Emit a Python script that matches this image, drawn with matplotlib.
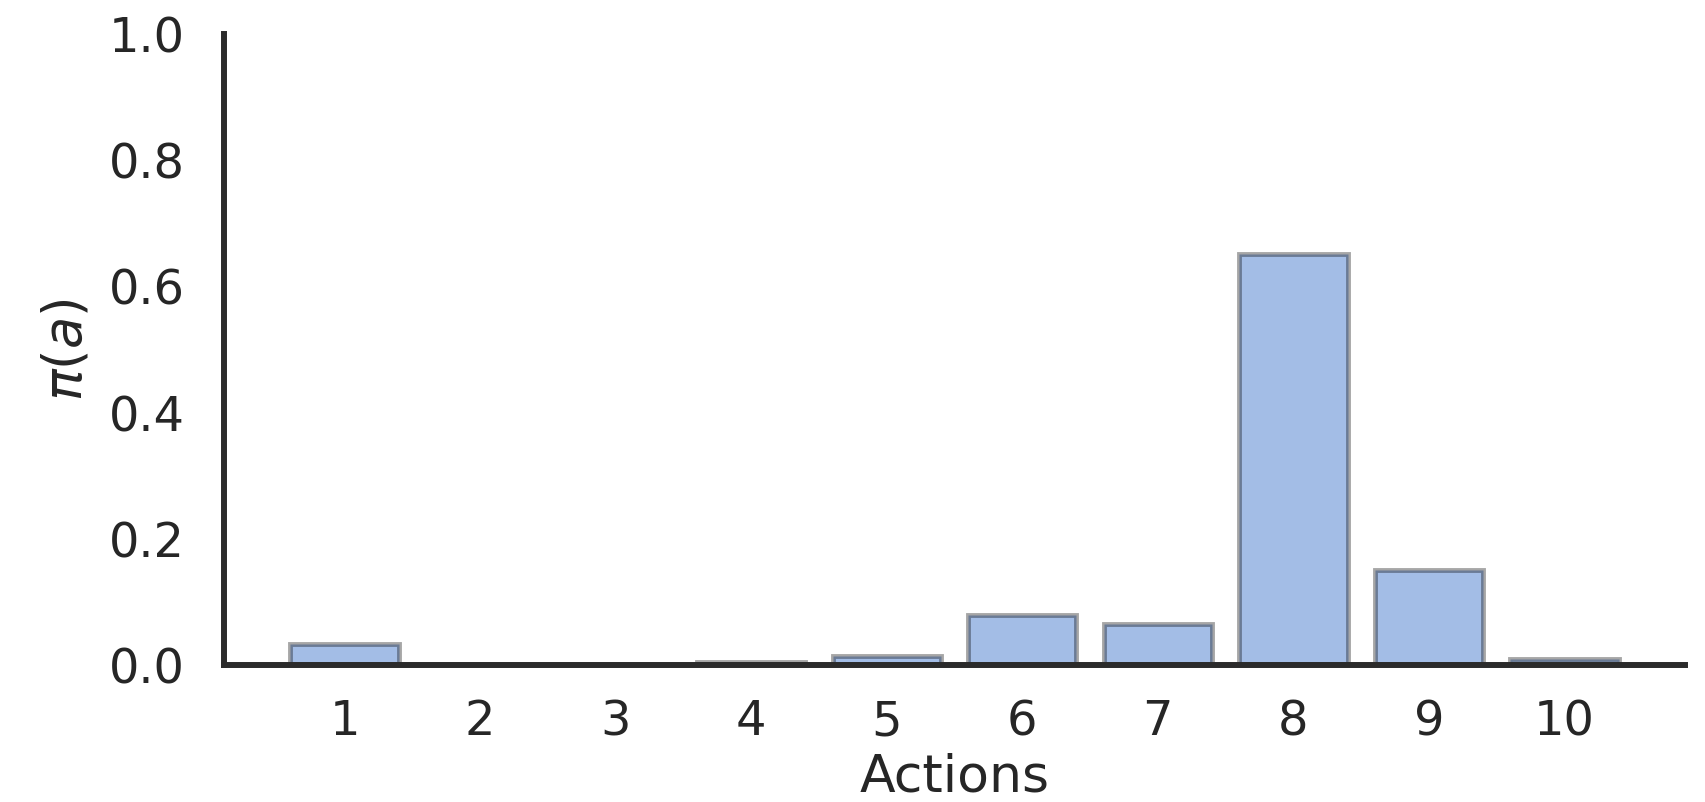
import matplotlib
matplotlib.use("Agg")
import matplotlib.pyplot as plt

actions = [1, 2, 3, 4, 5, 6, 7, 8, 9, 10]
action_labels = ["1", "2", "3", "4", "5", "6", "7", "8", "9", "10"]
probs = [0.033, 0.0, 0.0, 0.004, 0.014, 0.079, 0.065, 0.651, 0.150, 0.0095]
yticks = [0.0, 0.2, 0.4, 0.6, 0.8, 1.0]

W, H = 1706, 802
fig = plt.figure(figsize=(W / 100, H / 100), dpi=100)
left, right, top, bottom = 224, 1685, 34, 665
ax = fig.add_axes([left / W, 1 - bottom / H, (right - left) / W, (bottom - top) / H])

text_col = "#262626"
ax.bar(actions, probs, width=0.8, color="#a3bde6",
       edgecolor=(0, 0, 0, 0.35), linewidth=3.5)

ax.set_ylim(0, 1.0)
ax.set_yticks(yticks)
ax.set_yticklabels([f"{v:.1f}" for v in yticks])
ax.set_xticks(actions)
ax.set_xticklabels(action_labels)

for s in ["top", "right"]:
    ax.spines[s].set_visible(False)
for s in ["left", "bottom"]:
    ax.spines[s].set_linewidth(4.3)
    ax.spines[s].set_color("#2b2b2b")

ax.tick_params(axis="x", length=0, pad=24, labelsize=34.5, labelcolor=text_col)
ax.tick_params(axis="y", length=0, pad=28, labelsize=34.5, labelcolor=text_col)

ax.set_xlabel("Actions", fontsize=37.5, color=text_col, labelpad=5)
ax.set_ylabel(r"$\pi(a)$", fontsize=38, color=text_col, labelpad=12)

fig.savefig("out.png", dpi=100, facecolor="white")
